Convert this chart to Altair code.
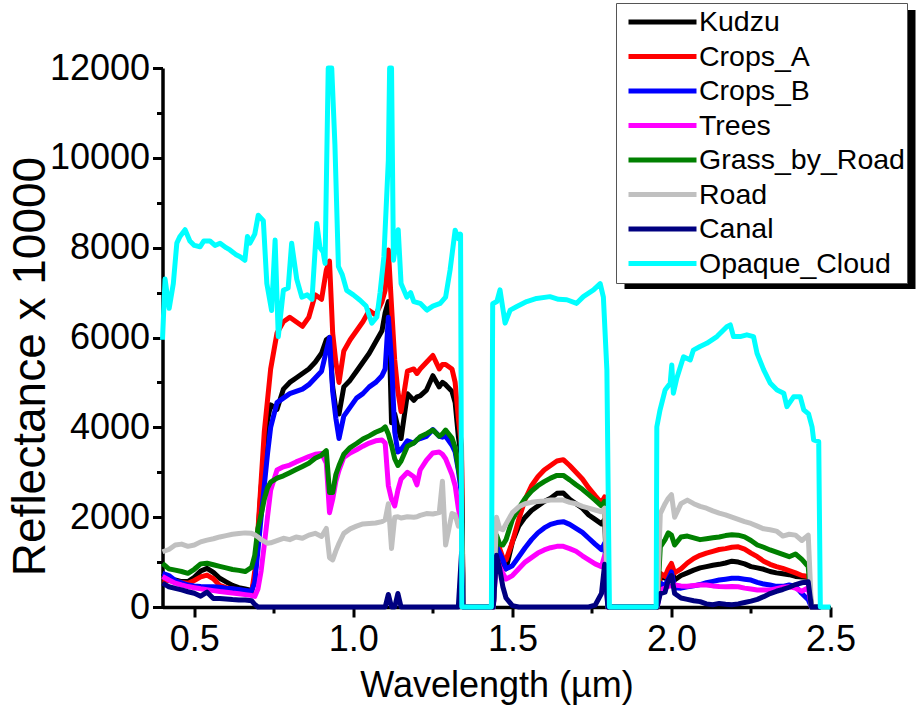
import altair as alt
import pandas as pd

# ---------------- data ----------------
wavelength = [
    0.40, 0.42, 0.44, 0.46, 0.48, 0.50, 0.52, 0.54, 0.56, 0.58,
    0.60, 0.62, 0.64, 0.66, 0.68, 0.69, 0.70, 0.71, 0.72, 0.73,
    0.74, 0.76, 0.78, 0.80, 0.82, 0.84, 0.86, 0.88, 0.90, 0.915,
    0.925, 0.935, 0.945, 0.955, 0.97, 0.99, 1.01, 1.03, 1.05, 1.07,
    1.09, 1.10, 1.11, 1.12, 1.13, 1.14, 1.15, 1.17, 1.19, 1.20,
    1.21, 1.23, 1.25, 1.27, 1.28, 1.29, 1.31, 1.32, 1.33, 1.34,
    1.345, 1.44, 1.45, 1.46, 1.47, 1.48, 1.50, 1.52, 1.54, 1.56,
    1.58, 1.60, 1.62, 1.64, 1.66, 1.68, 1.70, 1.72, 1.74, 1.76,
    1.78, 1.79, 1.80, 1.955, 1.965, 1.98, 1.99, 2.00, 2.01, 2.03,
    2.05, 2.07, 2.09, 2.11, 2.13, 2.15, 2.17, 2.19, 2.21, 2.23,
    2.25, 2.27, 2.29, 2.31, 2.33, 2.35, 2.37, 2.39, 2.41, 2.43,
    2.44, 2.47,
]

kudzu = [
    750, 640, 600, 565, 565, 660, 800, 860, 770, 640,
    560, 480, 430, 400, 370, 600, 1600, 2650, 3450, 4150,
    4500, 4400, 4850, 5000, 5100, 5200, 5300, 5450, 5650, 5950,
    6000, 4900, 4400, 4300, 4900, 5050, 5250, 5450, 5650, 5900,
    6150, 6550, 6800, 4100, 4300, 4000, 3750, 4750, 4600, 4680,
    4700, 4830, 5150, 4900, 5000, 4950, 4800, 4550, 3800, 3300,
    0, 0, 1550, 1200, 950, 850, 1450, 1800, 2000, 2150,
    2250, 2350, 2420, 2530, 2540, 2400, 2300, 2200, 2050, 1950,
    1850, 1950, 0, 0, 680, 640, 750, 880, 600, 700,
    760, 820, 870, 900, 930, 950, 980, 1020, 1000, 960,
    900, 870, 840, 790, 760, 740, 720, 680, 670, 660,
    0, 0,
]

crops_a = [
    600, 590, 565, 545, 530, 590, 670, 710, 630, 480,
    430, 400, 370, 330, 310, 800, 1700, 2800, 3900, 4600,
    5300, 6100, 6350, 6450, 6350, 6250, 6450, 6950, 6850, 7500,
    7700, 6100, 5450, 5000, 5700, 5950, 6150, 6350, 6600, 6500,
    6800, 7050, 7950, 6700, 5500, 4800, 4350, 5250, 5300, 5200,
    5300, 5450, 5600, 5300, 5400, 5400, 5300, 5000, 4200, 3600,
    0, 0, 1550, 1300, 1100, 1050, 1450, 1950, 2400, 2700,
    2900, 3050, 3150, 3250, 3280, 3150, 3000, 2850, 2650, 2480,
    2320, 2450, 0, 0, 750, 680, 850, 970, 760, 850,
    980, 1080, 1150, 1200, 1240, 1280, 1300, 1330, 1340, 1290,
    1200, 1120, 1020, 950, 900, 860, 810, 760, 700, 680,
    0, 0,
]

crops_b = [
    750, 700, 590, 540, 490, 470, 455, 450, 450, 440,
    420, 405, 390, 370, 350, 550, 1250, 2000, 2700, 3400,
    4000, 4550, 4650, 4750, 4800, 4850, 4950, 5100, 5250, 5700,
    6000, 4800, 4200, 3750, 4250, 4450, 4650, 4750, 4900, 5000,
    5150, 5300, 6450, 5500, 3900, 3450, 3500, 3700, 3650, 3720,
    3750, 3800, 3950, 3800, 3780, 3800, 3600, 3450, 3050, 2500,
    0, 0, 1350, 1200, 1050, 850, 920, 1120, 1320, 1500,
    1650, 1760, 1840, 1880, 1900, 1840, 1750, 1660, 1530, 1400,
    1280, 1420, 0, 0, 530, 480, 620, 780, 430, 420,
    450, 470, 500, 540, 570, 600, 620, 640, 640, 620,
    600, 550, 510, 490, 460, 460, 490, 460, 300, 160,
    0, 0,
]

trees = [
    680, 600, 530, 490, 455, 430, 405, 385, 365, 345,
    330, 310, 295, 275, 255, 235, 400, 800, 1380, 2000,
    2600, 3050, 3120, 3160, 3230, 3290, 3350, 3400, 3420, 3200,
    2100, 2400, 2800, 3050, 3330, 3430, 3500, 3580, 3650, 3700,
    3720, 3650, 2700, 2400, 2250, 2600, 2850, 3000, 2900, 2720,
    3050, 3270, 3430, 3450, 3400, 3300, 2950, 2700, 2200, 1800,
    0, 0, 1100, 900, 750, 620, 700, 850, 1000, 1100,
    1200, 1270, 1320, 1350, 1350, 1300, 1240, 1140, 1050, 960,
    900, 1150, 0, 0, 380, 420, 460, 470, 490, 470,
    460, 480, 490, 490, 470, 455, 450, 455, 450, 420,
    400, 380, 380, 380, 410, 440, 450, 420, 350, 430,
    0, 0,
]

grass_by_road = [
    970, 850, 820, 790, 750, 840, 960, 975, 940, 905,
    870, 835, 815, 790, 880, 1150, 1750, 2050, 2400, 2650,
    2780, 2870, 2920, 2990, 3060, 3130, 3200, 3310, 3380, 3480,
    2550, 2550, 2950, 3150, 3400, 3550, 3640, 3740, 3810, 3890,
    3950, 4010, 3850, 3600, 3300, 3150, 3250, 3580, 3650, 3720,
    3790, 3860, 3940, 3800, 3850, 3940, 3760, 3550, 3100, 2700,
    0, 0, 1600, 1400, 1380, 1500, 1950, 2200, 2420, 2580,
    2700, 2790, 2870, 2930, 2930, 2830, 2720, 2620, 2500, 2380,
    2250, 2350, 0, 0, 1340, 1500, 1650, 1600, 1380, 1560,
    1580, 1540, 1500, 1520, 1540, 1560, 1590, 1610, 1600, 1560,
    1480, 1380, 1330, 1270, 1220, 1170, 1120, 1180, 1060, 900,
    0, 0,
]

road = [
    1230, 1280, 1380, 1400, 1350, 1380, 1450, 1490, 1520, 1560,
    1590, 1620, 1635, 1650, 1640, 1610, 1560, 1500, 1460, 1420,
    1430, 1480, 1530, 1500, 1560, 1530, 1600, 1640, 1570, 1750,
    1100, 1050, 1250, 1420, 1640, 1740, 1800, 1850, 1860, 1870,
    1900, 1940, 2300, 1300, 2000, 2010, 1980, 2010, 2000, 2010,
    2040, 2080, 2070, 2100, 2800, 1380, 2080, 2050, 1800, 1900,
    0, 0, 2000, 1750, 1720, 1850, 2100, 2230, 2300, 2330,
    2350, 2360, 2380, 2380, 2380, 2330, 2300, 2240, 2200, 2160,
    2120, 2200, 0, 0, 2080, 2300, 2420, 2500, 2000, 2300,
    2380, 2300, 2240, 2200, 2140, 2090, 2050, 2000, 1950, 1900,
    1860, 1800, 1740, 1720, 1690, 1580, 1620, 1600, 1480, 1600,
    0, 0,
]

canal = [
    530, 450, 415, 380, 340, 305, 240, 330, 190, 190,
    180, 165, 155, 155, 140, 60, 0, 0, 0, 0,
    0, 0, 0, 0, 0, 0, 0, 0, 0, 0,
    0, 0, 0, 0, 0, 0, 0, 0, 0, 0,
    0, 0, 280, 0, 0, 300, 0, 0, 0, 0,
    0, 0, 0, 0, 0, 0, 0, 0, 0, 1200,
    0, 0, 1150, 850, 450, 200, 30, 0, 0, 0,
    0, 0, 0, 0, 0, 0, 0, 0, 0, 40,
    300, 950, 0, 0, 300, 330, 600, 700, 300, 200,
    170, 140, 120, 70, 50, 80, 60, 50, 70, 100,
    130, 170, 230, 300, 350, 390, 440, 500, 540, 560,
    0, 0,
]

wavelength_cloud = [
    0.400, 0.408, 0.421, 0.434, 0.445, 0.455, 0.471, 0.486, 0.500, 0.518,
    0.530, 0.549, 0.565, 0.581, 0.600, 0.612, 0.630, 0.644, 0.659, 0.667,
    0.675, 0.690, 0.701, 0.717, 0.728, 0.743, 0.754, 0.764, 0.780, 0.795,
    0.806, 0.822, 0.838, 0.855, 0.870, 0.885, 0.895, 0.905, 0.911, 0.921,
    0.932, 0.942, 0.953, 0.965, 0.979, 1.000, 1.021, 1.040, 1.058, 1.074,
    1.084, 1.096, 1.110, 1.114, 1.120, 1.126, 1.141, 1.150, 1.168, 1.180,
    1.190, 1.210, 1.231, 1.250, 1.273, 1.290, 1.304, 1.320, 1.330, 1.337,
    1.341, 1.434, 1.438, 1.451, 1.461, 1.477, 1.493, 1.514, 1.545, 1.576,
    1.618, 1.645, 1.671, 1.702, 1.723, 1.755, 1.776, 1.786, 1.797, 1.805,
    1.952, 1.954, 1.964, 1.980, 1.996, 2.001, 2.006, 2.017, 2.038, 2.059,
    2.069, 2.090, 2.111, 2.143, 2.174, 2.185, 2.195, 2.216, 2.237, 2.258,
    2.269, 2.290, 2.311, 2.332, 2.353, 2.363, 2.384, 2.405, 2.416, 2.431,
    2.442, 2.447, 2.463, 2.468, 2.500,
]

opaque_cloud = [
    5950, 7300, 6650, 7200, 8100, 8250, 8400, 8150, 8050, 8020,
    8150, 8150, 8050, 8100, 8000, 7950, 7850, 7800, 7720, 8250,
    8100, 8300, 8720, 8600, 7200, 6600, 8170, 6020, 7050, 7100,
    8100, 7300, 6900, 6950, 6850, 8540, 8000, 7900, 7650, 12000,
    12000, 10300, 7580, 7400, 7050, 6950, 6830, 6700, 6320, 6460,
    7000, 7800, 9950, 12000, 12000, 7720, 8400, 7200, 6900, 7000,
    6800, 6760, 6610, 6700, 6760, 6900, 7500, 8390, 8200, 8300,
    0, 0, 6750, 6800, 7060, 6320, 6610, 6690, 6800, 6870,
    6910, 6850, 6840, 6760, 6910, 7060, 7200, 6900, 5280, 0,
    0, 4010, 4385, 4830, 4980, 5390, 4760, 5100, 5570, 5500,
    5720, 5800, 5870, 6020, 6240, 6280, 6020, 6020, 6060, 6020,
    5650, 5280, 4980, 4830, 4760, 4460, 4680, 4680, 4390, 4300,
    4010, 3720, 3680, 0, 0,
]

series_names = ["Kudzu", "Crops_A", "Crops_B", "Trees", "Grass_by_Road",
                "Road", "Canal", "Opaque_Cloud"]
series_colors = ["#000000", "#FF0000", "#0000FF", "#FF00FF", "#008000",
                 "#C0C0C0", "#000080", "#00FFFF"]

x_tick_values = [0.5, 0.75, 1.0, 1.25, 1.5, 1.75, 2.0, 2.25, 2.5]
y_tick_values = list(range(0, 13000, 1000))

# ---------------- build table ----------------
rows = []
for name, vals in zip(series_names[:7],
                      [kudzu, crops_a, crops_b, trees, grass_by_road, road, canal]):
    for w, v in zip(wavelength, vals):
        rows.append({"series": name, "wl": w, "refl": v})
for w, v in zip(wavelength_cloud, opaque_cloud):
    rows.append({"series": "Opaque_Cloud", "wl": w, "refl": v})
df = pd.DataFrame(rows)

FONT = "Liberation Sans, Arial, sans-serif"

x_axis = alt.Axis(
    values=x_tick_values,
    labelExpr="(datum.value*4) % 2 == 0 ? format(datum.value, '.1f') : ''",
    tickSize={"condition": {"test": "(datum.value*4) % 2 == 0", "value": 10}, "value": 6},
    labelPadding=5,
    labelFlush=False,
    labelOverlap=False,
    title="Wavelength (\u00b5m)",
    titleFont=FONT,
    titleFontSize=36,
    titleFontWeight="normal",
    titleBaseline="alphabetic",
    titleY=89,
    grid=False,
)

y_axis = alt.Axis(
    values=y_tick_values,
    format="d",
    labelExpr="datum.value % 2000 == 0 ? datum.label : ''",
    tickSize={"condition": {"test": "datum.value % 2000 == 0", "value": 10}, "value": 6},
    labelPadding=3,
    labelFlush=False,
    labelOverlap=False,
    title="Reflectance x 10000",
    titleFont=FONT,
    titleFontSize=46,
    titleFontWeight="normal",
    titleBaseline="alphabetic",
    titleAlign="center",
    titleAngle=270,
    titleX=-118,
    titleY=298,
    grid=False,
)

legend = alt.Legend(
    title=None,
    orient="none",
    legendX=453.5,
    legendY=-65,
    symbolType="stroke",
    symbolSize=4624,
    symbolStrokeWidth=5,
    symbolOffset=8,
    labelOffset=0,
    labelFont=FONT,
    labelFontSize=28.5,
    labelColor="black",
    labelLimit=400,
    clipHeight=34,
    rowPadding=0.5,
    padding=2,
    fillColor="white",
    strokeColor="#555555",
)

color_scale = alt.Scale(domain=series_names, range=series_colors)
x_scale = alt.Scale(domain=[0.4, 2.5], nice=False, zero=False)
y_scale = alt.Scale(domain=[0, 12000], nice=False)

# drop shadow behind the legend box
shadow = alt.Chart(pd.DataFrame({"k": [0]})).mark_rect(color="black").encode(
    x=alt.value(462), x2=alt.value(753), y=alt.value(-58), y2=alt.value(221)
)

layers = [shadow]
for name in series_names:
    layers.append(
        alt.Chart(df)
        .transform_filter(alt.datum.series == name)
        .mark_line(strokeWidth=5, strokeJoin="round")
        .encode(
            x=alt.X("wl:Q", scale=x_scale, axis=x_axis),
            y=alt.Y("refl:Q", scale=y_scale, axis=y_axis),
            color=alt.Color("series:N", scale=color_scale, legend=legend),
        )
    )

chart = (
    alt.layer(*layers)
    .properties(
        width=668,
        height=539,
        autosize=alt.AutoSizeParams(type="none"),
        padding={"left": 162.5, "top": 68, "right": 86.5, "bottom": 100},
        background="white",
    )
    .configure_view(stroke=None)
    .configure_axis(
        domainColor="black",
        domainWidth=3.5,
        tickColor="black",
        tickWidth=3,
        labelFont=FONT,
        labelFontSize=36,
        labelColor="black",
        titleColor="black",
    )
)

chart.save("out.html", embed_options={"renderer": "svg", "actions": False})
